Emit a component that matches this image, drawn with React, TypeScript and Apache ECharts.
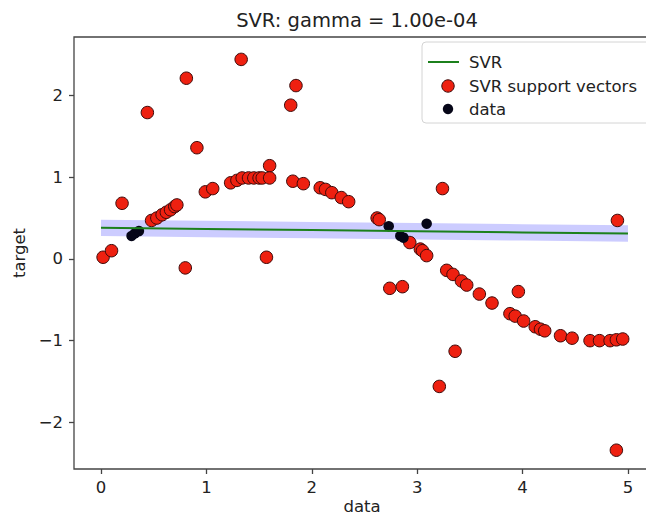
import React, { useEffect, useRef } from "react";
import * as echarts from "echarts";

// Support vectors (red)
const svX = [
  0.02, 0.1, 0.2, 0.44, 0.48, 0.53, 0.58, 0.62, 0.66, 0.7, 0.72, 0.8, 0.81, 0.91,
  0.99, 1.06, 1.23, 1.29, 1.33, 1.34, 1.4, 1.45, 1.5, 1.53, 1.57, 1.6, 1.6, 1.8,
  1.82, 1.85, 1.92, 2.08, 2.13, 2.19, 2.28, 2.35, 2.62, 2.64, 2.74, 2.86, 2.93,
  3.03, 3.05, 3.09, 3.21, 3.24, 3.28, 3.34, 3.36, 3.42, 3.47, 3.59, 3.71, 3.88,
  3.93, 3.96, 4.01, 4.12, 4.17, 4.21, 4.36, 4.47, 4.64, 4.73, 4.83, 4.89, 4.89,
  4.9, 4.95,
];
const svY = [
  0.02, 0.1, 0.68, 1.79, 0.47, 0.5, 0.54, 0.57, 0.6, 0.64, 0.66, -0.11, 2.21, 1.36,
  0.82, 0.86, 0.93, 0.96, 2.44, 0.99, 0.99, 0.99, 0.99, 0.99, 0.02, 1.14, 0.99, 1.88,
  0.95, 2.12, 0.92, 0.87, 0.85, 0.81, 0.75, 0.7, 0.5, 0.48, -0.36, -0.34, 0.2,
  0.12, 0.1, 0.04, -1.56, 0.86, -0.14, -0.19, -1.13, -0.27, -0.32, -0.43, -0.54, -0.67,
  -0.7, -0.4, -0.76, -0.83, -0.86, -0.88, -0.94, -0.97, -1.0, -1.0, -1.0, -2.34, -0.99,
  0.47, -0.98,
];

// Other training data (black)
const dataX = [0.29, 0.32, 0.36, 2.73, 2.84, 2.87, 3.09];
const dataY = [0.28, 0.31, 0.34, 0.4, 0.28, 0.26, 0.43];

// SVR prediction and epsilon tube
const svrX = [0.0, 1.0, 2.0, 3.0, 4.0, 5.0];
const svrY = [0.38, 0.366, 0.352, 0.338, 0.324, 0.31];
const bandUpper = [0.48, 0.466, 0.452, 0.438, 0.424, 0.41];
const bandLower = [0.28, 0.266, 0.252, 0.238, 0.224, 0.21];

const xTicks = [0, 1, 2, 3, 4, 5];
const yTicks = [-2, -1, 0, 1, 2];

const FONT = "DejaVu Sans";
const TXT = "#222";
const SPINE = "#444";
const RED = "#ee2010";
const RED_EDGE = "#3c0a0a";
const BLACK = "#060618";
const GREEN = "#1c801c";

const fmt = (v: number) => String(v).replace("-", "\u2212");

export default function App() {
  const ref = useRef<HTMLDivElement>(null);
  useEffect(() => {
    const chart = echarts.init(ref.current!, null, { renderer: "svg" });
    const axisCommon = {
      type: "value",
      axisLine: { show: false, onZero: false },
      splitLine: { show: false },
      axisTick: {
        show: true,
        length: 5,
        inside: false,
        lineStyle: { color: SPINE, width: 1.3 },
      },
      nameTextStyle: { fontSize: 16.5, fontFamily: FONT, color: TXT },
    };
    chart.setOption({
      animation: false,
      backgroundColor: "#fff",
      grid: {
        left: 74,
        top: 37,
        right: -2,
        bottom: 48,
        containLabel: false,
        outerBoundsMode: "none",
        show: true,
        borderColor: SPINE,
        borderWidth: 1.3,
        backgroundColor: "transparent",
      },
      xAxis: {
        ...axisCommon,
        min: -0.256,
        max: 5.19,
        axisTick: { ...axisCommon.axisTick, customValues: xTicks },
        axisLabel: {
          customValues: xTicks,
          margin: 10,
          fontSize: 16.5,
          fontFamily: FONT,
          color: TXT,
          formatter: fmt,
        },
      },
      yAxis: {
        ...axisCommon,
        min: -2.57,
        max: 2.714,
        name: "target",
        nameLocation: "middle",
        nameGap: 39,
        axisTick: { ...axisCommon.axisTick, customValues: yTicks },
        axisLabel: {
          customValues: yTicks,
          margin: 11,
          fontSize: 16.5,
          fontFamily: FONT,
          color: TXT,
          formatter: fmt,
        },
      },
      series: [
        {
          type: "custom",
          name: "epsilon tube",
          silent: true,
          z: 1,
          data: [[svrX[0], svrY[0]]],
          renderItem: (_params: any, api: any) => {
            const pts: number[][] = [];
            for (let i = 0; i < svrX.length; i++) pts.push(api.coord([svrX[i], bandUpper[i]]));
            for (let i = svrX.length - 1; i >= 0; i--) pts.push(api.coord([svrX[i], bandLower[i]]));
            return {
              type: "polygon",
              shape: { points: pts },
              style: { fill: "rgba(0,0,255,0.2)", stroke: "none" },
            };
          },
        },
        {
          type: "scatter",
          name: "SVR support vectors",
          z: 2,
          symbol: "circle",
          symbolSize: 12.5,
          itemStyle: { color: RED, borderColor: RED_EDGE, borderWidth: 1, opacity: 1 },
          data: svX.map((x, i) => [x, svY[i]]),
        },
        {
          type: "scatter",
          name: "data",
          z: 3,
          symbol: "circle",
          symbolSize: 10.5,
          itemStyle: { color: BLACK, opacity: 1 },
          data: dataX.map((x, i) => [x, dataY[i]]),
        },
        {
          type: "line",
          name: "SVR",
          z: 4,
          showSymbol: false,
          symbol: "none",
          lineStyle: { color: GREEN, width: 2 },
          data: svrX.map((x, i) => [x, svrY[i]]),
        },
      ],
      graphic: [
        {
          type: "text",
          x: 357,
          y: 20,
          style: {
            text: "SVR: gamma = 1.00e-04",
            font: `19.5px '${FONT}'`,
            fill: TXT,
            textAlign: "center",
            textVerticalAlign: "middle",
          },
        },
        {
          type: "text",
          x: 362,
          y: 506,
          style: {
            text: "data",
            font: `16.5px '${FONT}'`,
            fill: TXT,
            textAlign: "center",
            textVerticalAlign: "middle",
          },
        },
        {
          type: "group",
          z: 100,
          children: [
            {
              type: "rect",
              shape: { x: 422, y: 42, width: 240, height: 81, r: 4 },
              style: { fill: "rgba(255,255,255,0.85)", stroke: "#d4d4d4", lineWidth: 1 },
            },
            {
              type: "line",
              shape: { x1: 428, y1: 62, x2: 459, y2: 62 },
              style: { stroke: GREEN, lineWidth: 2 },
            },
            {
              type: "circle",
              shape: { cx: 448, cy: 86, r: 6.2 },
              style: { fill: RED, stroke: RED_EDGE, lineWidth: 1 },
            },
            {
              type: "circle",
              shape: { cx: 448, cy: 109, r: 5.2 },
              style: { fill: BLACK },
            },
            {
              type: "text",
              x: 469,
              y: 62,
              style: { text: "SVR", font: `16.5px '${FONT}'`, fill: TXT, textVerticalAlign: "middle" },
            },
            {
              type: "text",
              x: 469,
              y: 86,
              style: {
                text: "SVR support vectors",
                font: `16.5px '${FONT}'`,
                fill: TXT,
                textVerticalAlign: "middle",
              },
            },
            {
              type: "text",
              x: 469,
              y: 109,
              style: { text: "data", font: `16.5px '${FONT}'`, fill: TXT, textVerticalAlign: "middle" },
            },
          ],
        },
      ],
    });
    return () => chart.dispose();
  }, []);
  return (
    <div
      ref={ref}
      style={{ position: "fixed", left: 0, top: 0, width: 646, height: 517, background: "#fff" }}
    />
  );
}
